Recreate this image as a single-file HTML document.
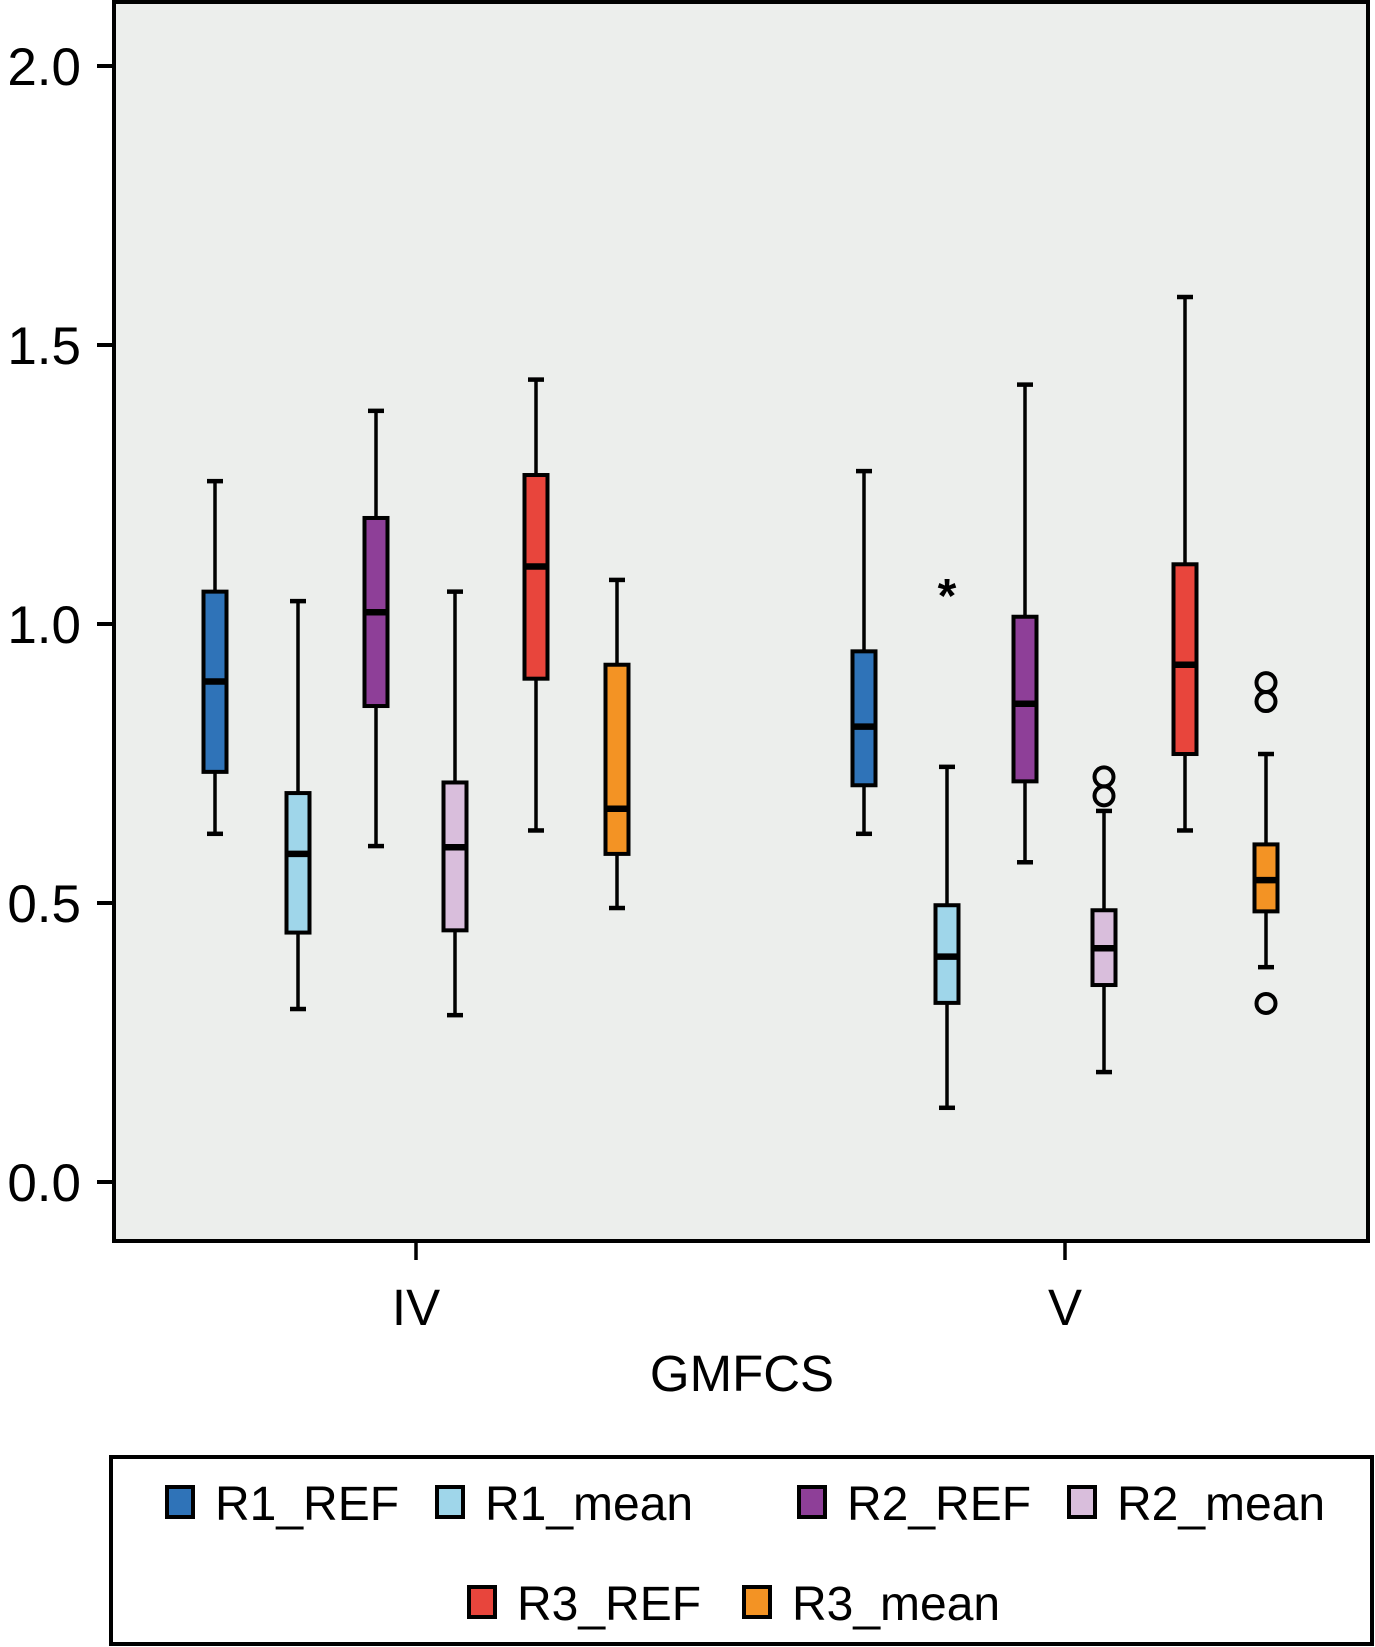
<!DOCTYPE html>
<html><head><meta charset="utf-8"><style>
html,body{margin:0;padding:0;background:#fff;}
svg{display:block;font-family:"Liberation Sans",Arial,sans-serif;}
</style></head><body>
<svg id="chart" width="1375" height="1647" viewBox="0 0 1375 1647">
<rect x="114" y="2" width="1254" height="1239" fill="#eceeec" stroke="#000" stroke-width="4"/>
<g id="axes"></g><g id="boxes"></g>
<text x="742" y="1391" font-size="51" text-anchor="middle">GMFCS</text>
<rect x="111" y="1457" width="1261" height="187" fill="#fff" stroke="#000" stroke-width="4"/>
<g id="legend"></g>
</svg>
<script>
const groups=["IV","V"];
const series=["R1_REF","R1_mean","R2_REF","R2_mean","R3_REF","R3_mean"];
const colors=["#2f73b8","#9fd6ea","#8e3f98","#d9bedc","#e8453c","#f39324"];
// [low, q1, median, q3, high] per group per series
const statsIV=[[0.624,0.735,0.897,1.058,1.256],[0.310,0.447,0.588,0.697,1.041],[0.602,0.853,1.021,1.190,1.382],[0.299,0.451,0.600,0.716,1.058],[0.630,0.902,1.103,1.267,1.438],[0.491,0.588,0.669,0.927,1.079]];
const statsV=[[0.624,0.711,0.816,0.951,1.274],[0.133,0.321,0.404,0.496,0.744],[0.573,0.718,0.857,1.013,1.429],[0.197,0.353,0.419,0.487,0.665],[0.630,0.767,0.927,1.107,1.586],[0.385,0.485,0.541,0.605,0.767]];
const outliersV=[[],[],[],[0.726,0.692],[],[0.895,0.861,0.320]];
const extremesV=[[],[1.068],[],[],[],[]];
const yTicks=[0.0,0.5,1.0,1.5,2.0];
const NS="http://www.w3.org/2000/svg";
function y(v){return 1182-v*558;}
const groupCenter=[416,1065];
const offsets=[-201,-118,-40,39,120,201];
function x(g,s){return groupCenter[g]+offsets[s];}
function mk(tag,attrs,parent){const e=document.createElementNS(NS,tag);for(const k in attrs)e.setAttribute(k,attrs[k]);parent.appendChild(e);return e;}
const axes=document.getElementById('axes');
yTicks.forEach(t=>{
  const l=mk('line',{x1:97,x2:114,y1:y(t),y2:y(t),stroke:'#000','stroke-width':4},axes);
  
  
  const tx=mk('text',{x:81,y:y(t)+19,'font-size':53,'text-anchor':'end'},axes);
  tx.textContent=t.toFixed(1);
  
  
});
groups.forEach((g,i)=>{
  const l=mk('line',{x1:groupCenter[i],x2:groupCenter[i],y1:1241,y2:1260,stroke:'#000','stroke-width':3.5},axes);
  
  
  const tx=mk('text',{x:groupCenter[i],y:1325,'font-size':51,'text-anchor':'middle'},axes);
  tx.textContent=g;
  
  
});
const boxes=document.getElementById('boxes');
[statsIV,statsV].forEach((st,gi)=>{
  st.forEach((d,si)=>{
    const cx=x(gi,si);
    const g=mk('g',{},boxes);
    
    
    mk('line',{x1:cx,x2:cx,y1:y(d[0]),y2:y(d[4]),stroke:'#000','stroke-width':3.5},g);
    mk('line',{x1:cx-8,x2:cx+8,y1:y(d[0]),y2:y(d[0]),stroke:'#000','stroke-width':4.5},g);
    mk('line',{x1:cx-8,x2:cx+8,y1:y(d[4]),y2:y(d[4]),stroke:'#000','stroke-width':4.5},g);
    mk('rect',{x:cx-11.5,y:y(d[3]),width:23,height:y(d[1])-y(d[3]),fill:colors[si],stroke:'#000','stroke-width':4},g);
    mk('line',{x1:cx-11.5,x2:cx+11.5,y1:y(d[2]),y2:y(d[2]),stroke:'#000','stroke-width':6.5},g);
  });
});
outliersV.forEach((arr,si)=>arr.forEach(v=>{
  const c=mk('circle',{cx:x(1,si),cy:y(v),r:9.5,fill:'none',stroke:'#000','stroke-width':4},boxes);
  
  
}));
extremesV.forEach((arr,si)=>arr.forEach(v=>{
  const t=mk('text',{x:x(1,si),y:y(v)+26,'font-size':48,'font-weight':'bold','text-anchor':'middle'},boxes);
  t.textContent='*';
  
  
}));
const legend=document.getElementById('legend');
const legPos=[[165,1502],[435,1502],[797,1502],[1067,1502],[467,1602],[742,1602]];
series.forEach((s,i)=>{
  const [lx,ly]=legPos[i];
  const g=mk('g',{},legend);
  
  
  mk('rect',{x:lx+2,y:ly-15,width:26,height:30,fill:colors[i],stroke:'#000','stroke-width':4},g);
  const t=mk('text',{x:lx+50,y:ly+18,'font-size':48},g);
  t.textContent=s;
});
</script>
</body></html>
